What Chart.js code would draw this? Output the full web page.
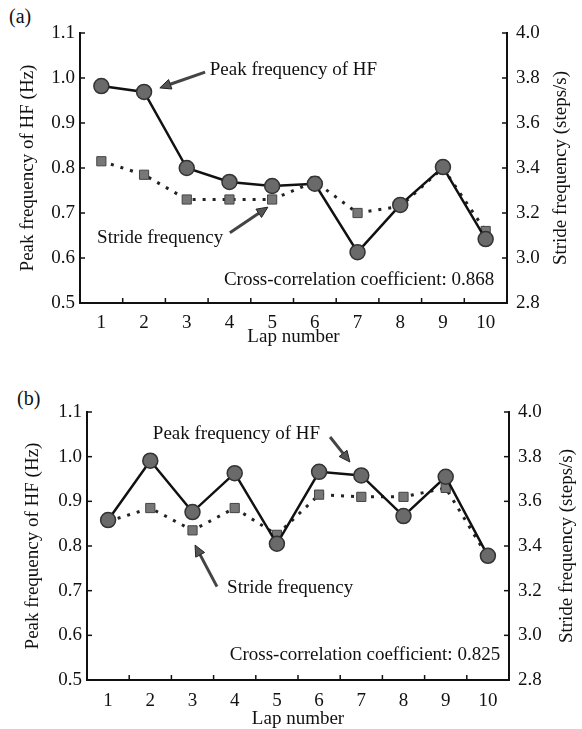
<!DOCTYPE html>
<html>
<head>
<meta charset="utf-8">
<script src="https://cdn.jsdelivr.net/npm/chart.js@4.4.1/dist/chart.umd.min.js"></script>
<style>
  html, body { margin: 0; padding: 0; background: #fff; }
  body { width: 582px; height: 729px; position: relative; overflow: hidden; font-family: "Liberation Serif", serif; }
  .wrap { position: absolute; left: 0; width: 582px; }
  .panel { position: absolute; font-size: 20px; color: #111; }
</style>
</head>
<body>
<div class="panel" style="left:9px; top:5px;">(a)</div>
<div class="panel" style="left:17px; top:387px;">(b)</div>
<div class="wrap" style="top:0; height:360px;"><canvas id="ca" width="582" height="360"></canvas></div>
<div class="wrap" style="top:360px; height:369px;"><canvas id="cb" width="582" height="369"></canvas></div>
<script>
// ---- data ----
const laps = ['1', '2', '3', '4', '5', '6', '7', '8', '9', '10'];
// panel (a)
const hfA = [0.982, 0.969, 0.800, 0.769, 0.760, 0.765, 0.613, 0.718, 0.802, 0.642];
const strideA = [3.43, 3.37, 3.26, 3.26, 3.26, 3.34, 3.20, 3.23, 3.40, 3.12];
// panel (b)
const hfB = [0.858, 0.991, 0.876, 0.963, 0.805, 0.966, 0.958, 0.867, 0.955, 0.778];
const strideB = [3.51, 3.57, 3.47, 3.57, 3.45, 3.63, 3.62, 3.62, 3.66, 3.35];
// axis ticks
const hfTicks = [0.5, 0.6, 0.7, 0.8, 0.9, 1.0, 1.1];
const strideTicks = [2.8, 3.0, 3.2, 3.4, 3.6, 3.8, 4.0];
const hfLabel = 'Peak frequency of HF (Hz)';
const strideLabel = 'Stride frequency (steps/s)';
const xLabel = 'Lap number';
const corrA = 'Cross-correlation coefficient: 0.868';
const corrB = 'Cross-correlation coefficient: 0.825';

const FONT = '"Liberation Serif", "Times New Roman", serif';
const FS = 19;

// inline plugin: inward ticks, right-axis title, annotations
const decor = {
  id: 'decor',
  afterDraw(chart, args, opts) {
    const ctx = chart.ctx;
    const x = chart.scales.x, yl = chart.scales.y, yr = chart.scales.y2;
    const a = chart.chartArea;
    ctx.save();
    ctx.strokeStyle = '#111';
    ctx.lineWidth = 1.5;
    // inward tick marks
    yl.ticks.forEach(t => {
      const py = yl.getPixelForValue(t.value);
      ctx.beginPath(); ctx.moveTo(a.left, py); ctx.lineTo(a.left + 5, py); ctx.stroke();
    });
    yr.ticks.forEach(t => {
      const py = yr.getPixelForValue(t.value);
      ctx.beginPath(); ctx.moveTo(a.right, py); ctx.lineTo(a.right - 5, py); ctx.stroke();
    });
    for (let i = 0; i < laps.length - 1; i++) {
      const px = x.getPixelForValue(i + 0.5);
      ctx.beginPath(); ctx.moveTo(px, a.bottom); ctx.lineTo(px, a.bottom - 5); ctx.stroke();
    }
    // right axis title (reads bottom to top)
    ctx.fillStyle = '#111';
    ctx.font = FS + 'px ' + FONT;
    ctx.textAlign = 'center';
    ctx.textBaseline = 'middle';
    ctx.save();
    ctx.translate(opts.rightTitleX, (a.top + a.bottom) / 2);
    ctx.rotate(-Math.PI / 2);
    ctx.fillText(strideLabel, 0, 0);
    ctx.restore();
    // annotations (positions in lap / Hz units)
    const lx = v => x.getPixelForValue(v - 1);
    const ly = v => yl.getPixelForValue(v);
    (opts.texts || []).forEach(t => {
      ctx.textAlign = t.align;
      ctx.fillText(t.text, lx(t.lap), ly(t.val));
    });
    (opts.arrows || []).forEach(ar => {
      const x0 = lx(ar.from[0]), y0 = ly(ar.from[1]);
      const x1 = lx(ar.to[0]), y1 = ly(ar.to[1]);
      const ang = Math.atan2(y1 - y0, x1 - x0);
      const hl = 11, hw = 5;
      const bx = x1 - hl * Math.cos(ang), by = y1 - hl * Math.sin(ang);
      ctx.strokeStyle = '#444';
      ctx.lineWidth = 3;
      ctx.beginPath(); ctx.moveTo(x0, y0); ctx.lineTo(bx, by); ctx.stroke();
      ctx.fillStyle = '#555';
      ctx.beginPath();
      ctx.moveTo(x1, y1);
      ctx.lineTo(bx + hw * Math.sin(ang), by - hw * Math.cos(ang));
      ctx.lineTo(bx - hw * Math.sin(ang), by + hw * Math.cos(ang));
      ctx.closePath(); ctx.fill();
      ctx.strokeStyle = '#222'; ctx.lineWidth = 1; ctx.stroke();
      ctx.fillStyle = '#111';
    });
    ctx.restore();
  }
};

function makeChart(id, hf, stride, g, deco) {
  const tickFont = { family: FONT, size: FS };
  const titleFont = { family: FONT, size: FS, lineHeight: 1 };
  return new Chart(document.getElementById(id), {
    type: 'line',
    data: {
      labels: laps,
      datasets: [
        {
          label: 'Peak frequency of HF',
          data: hf,
          yAxisID: 'y',
          borderColor: '#111',
          borderWidth: 2.5,
          pointStyle: 'circle',
          pointRadius: 7.5,
          pointBackgroundColor: '#6a6a6a',
          pointBorderColor: '#333',
          pointBorderWidth: 1.5,
          tension: 0
        },
        {
          label: 'Stride frequency',
          data: stride,
          yAxisID: 'y2',
          borderColor: '#222',
          borderWidth: 3,
          borderDash: [3, 7],
          pointStyle: 'rect',
          pointRadius: 6.5,
          pointBackgroundColor: '#777',
          pointBorderColor: '#444',
          pointBorderWidth: 1,
          tension: 0
        }
      ]
    },
    options: {
      responsive: false,
      animation: false,
      devicePixelRatio: 1,
      layout: { padding: { top: g.top, left: 0, right: 0, bottom: 0 } },
      plugins: {
        legend: { display: false },
        tooltip: { enabled: false },
        decor: deco
      },
      scales: {
        x: {
          type: 'category',
          offset: true,
          grid: { display: true, drawOnChartArea: false, drawTicks: false, color: 'rgba(0,0,0,0)' },
          border: { display: true, color: '#111', width: 2 },
          ticks: { font: tickFont, color: '#111', padding: g.xPad, maxRotation: 0 },
          title: { display: true, text: xLabel, font: titleFont, color: '#111', padding: { top: 0, bottom: g.xTitlePad } },
          afterFit: s => { s.height = g.h - g.bottom; }
        },
        y: {
          type: 'linear', position: 'left', min: 0.5, max: 1.1,
          afterBuildTicks: s => { s.ticks = hfTicks.map(v => ({ value: v })); },
          grid: { display: true, drawOnChartArea: false, drawTicks: false, color: 'rgba(0,0,0,0)' },
          border: { display: true, color: '#111', width: 2 },
          ticks: { font: tickFont, color: '#111', padding: 5, callback: v => Number(v).toFixed(1) },
          title: { display: true, text: hfLabel, font: titleFont, color: '#111', padding: { top: g.lTitlePad, bottom: 0 } },
          afterFit: s => { s.width = g.left; }
        },
        y2: {
          type: 'linear', position: 'right', min: 2.8, max: 4.0,
          afterBuildTicks: s => { s.ticks = strideTicks.map(v => ({ value: v })); },
          grid: { display: true, drawOnChartArea: false, drawTicks: false, color: 'rgba(0,0,0,0)' },
          border: { display: true, color: '#111', width: 2 },
          ticks: { font: tickFont, color: '#111', padding: 9, callback: v => Number(v).toFixed(1) },
          afterFit: s => { s.width = 582 - g.right; }
        }
      }
    },
    plugins: [decor]
  });
}

makeChart('ca', hfA, strideA,
  { h: 360, top: 33, left: 80, right: 507, bottom: 303, xPad: 9, xTitlePad: 13.5, lTitlePad: 18.5 },
  {
    rightTitleX: 561,
    texts: [
      { text: 'Peak frequency of HF', lap: 3.54, val: 1.018, align: 'left' },
      { text: 'Stride frequency', lap: 0.9, val: 0.644, align: 'left' },
      { text: corrA, lap: 10.2, val: 0.551, align: 'right' }
    ],
    arrows: [
      { from: [3.43, 1.013], to: [2.37, 0.978] },
      { from: [4.01, 0.656], to: [4.9, 0.713] }
    ]
  });

makeChart('cb', hfB, strideB,
  { h: 369, top: 52, left: 87, right: 509, bottom: 320, xPad: 10, xTitlePad: 0, lTitlePad: 23.5 },
  {
    rightTitleX: 567,
    texts: [
      { text: 'Peak frequency of HF', lap: 2.06, val: 1.051, align: 'left' },
      { text: 'Stride frequency', lap: 3.82, val: 0.706, align: 'left' },
      { text: corrB, lap: 10.29, val: 0.556, align: 'right' }
    ],
    arrows: [
      { from: [6.26, 1.044], to: [6.73, 0.988] },
      { from: [3.58, 0.709], to: [3.06, 0.802] }
    ]
  });
</script>
</body>
</html>
